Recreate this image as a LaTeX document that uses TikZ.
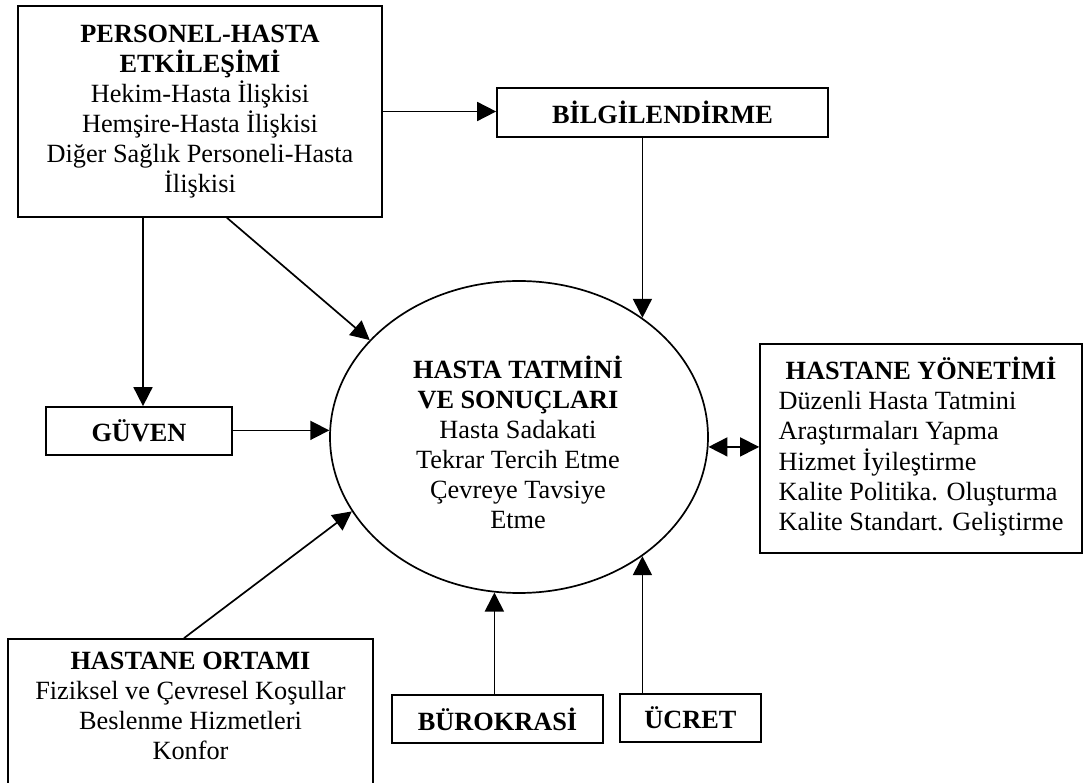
\documentclass[tikz,border=0pt]{standalone}
\usepackage{fontspec}
\setmainfont{Liberation Serif}
\usetikzlibrary{arrows.meta,shapes.geometric}
\begin{document}
\begin{tikzpicture}[x=1pt,y=-1pt,
  txt/.style={font=\fontsize{26.3}{30}\selectfont, align=center, inner sep=0pt},
  box/.style={txt, draw, line width=1.7pt, rectangle},
  tip/.tip={Triangle[length=19pt,width=19pt]},
  arr/.style={line width=1.7pt, -tip},
  darr/.style={line width=1.7pt, tip-tip}]
\useasboundingbox (0,0) rectangle (1085,783);

% boxes
\node[box, minimum width=364pt, minimum height=211pt] (pers) at (200,111.5)
  {\textbf{PERSONEL-HASTA}\\\textbf{ETKİLEŞİMİ}\\Hekim-Hasta İlişkisi\\Hemşire-Hasta İlişkisi\\Diğer Sağlık Personeli-Hasta\\İlişkisi};
\node[box, minimum width=331pt, minimum height=49pt] (bilgi) at (662.5,112.5) {\textbf{BİLGİLENDİRME}};
\node[box, minimum width=186pt, minimum height=48pt] (guven) at (139,431) {\textbf{GÜVEN}};
\node[box, minimum width=322pt, minimum height=209pt] (yonet) at (921,448.5)
  {\begin{tabular}{@{}l@{}}\multicolumn{1}{@{}c@{}}{\textbf{HASTANE YÖNETİMİ}}\\
   Düzenli Hasta Tatmini\\Araştırmaları Yapma\\Hizmet İyileştirme\\
   Kalite Politika. Oluşturma\\Kalite Standart. Geliştirme\end{tabular}};
\node[box, minimum width=365pt, minimum height=147pt] (ortam) at (190.5,712.5) {};
\node[txt] (ortamT) at (190.5,706)
  {\textbf{HASTANE ORTAMI}\\Fiziksel ve Çevresel Koşullar\\Beslenme Hizmetleri\\Konfor};
\node[box, minimum width=211pt, minimum height=48pt] (buro) at (497.5,719) {\textbf{BÜROKRASİ}};
\node[box, minimum width=141pt, minimum height=48pt] (ucret) at (690.5,718) {\textbf{ÜCRET}};

% central ellipse
\node[draw, ellipse, line width=1.7pt, minimum width=378pt, minimum height=312pt, inner sep=0pt] (sat) at (519,437) {};
\node[txt] (satT) at (518,442.5)
  {\textbf{HASTA TATMİNİ}\\\textbf{VE SONUÇLARI}\\Hasta Sadakati\\Tekrar Tercih Etme\\Çevreye Tavsiye\\Etme};

% connectors
\coordinate (gtop) at ([xshift=4pt]guven.north);
\coordinate (pd) at ([xshift=27pt]pers.south);
\coordinate (od) at ([xshift=-6.5pt]ortam.north);

\draw[arr] (pers.east) -- (pers.east -| bilgi.west);
\draw[arr] (bilgi.south -| sat.44) -- (sat.44);
\draw[arr] (pers.south -| gtop) -- (gtop);
\draw[arr] (pd) -- (sat.147.5);
\draw[arr] (sat.178 -| guven.east) -- (sat.178);
\draw[arr] (od) -- (sat.204.5);
\draw[arr] (buro.north -| sat.261.5) -- (sat.261.5);
\draw[arr] (ucret.north -| sat.-44) -- (sat.-44);
\draw[darr] (sat.-3.3) -- (sat.-3.3 -| yonet.west);
\end{tikzpicture}
\end{document}
